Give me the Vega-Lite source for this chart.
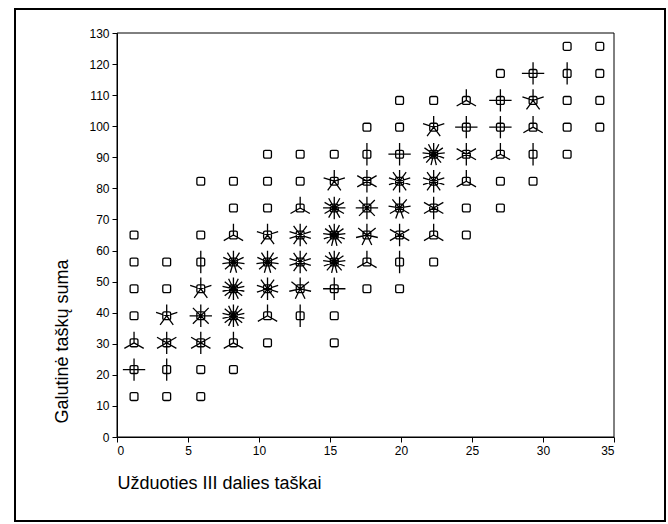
{
  "$schema": "https://vega.github.io/schema/vega-lite/v6.json",
  "width": 650,
  "height": 512,
  "autosize": {"type": "none"},
  "padding": {"left": 15, "top": 9, "right": 3, "bottom": 3},
  "background": "white",
  "config": {
    "view": {"stroke": "black", "strokeWidth": 2},
    "font": "Liberation Sans",
    "axis": {
      "grid": false,
      "domainColor": "black",
      "domainWidth": 1,
      "tickColor": "black",
      "tickSize": 5,
      "labelColor": "black",
      "labelFont": "Liberation Sans",
      "labelFontSize": 12,
      "labelOverlap": false,
      "titleColor": "black",
      "titleFont": "Liberation Sans",
      "titleFontSize": 18,
      "titleFontWeight": "normal"
    }
  },
  "layer": [
    {
      "data": {"values": [{"kraštas": "rėmelis"}]},
      "mark": {"type": "rect", "fill": null, "stroke": "black", "strokeWidth": 1},
      "encoding": {
        "x": {
          "datum": 0,
          "type": "quantitative",
          "scale": {"domain": [0, 35], "range": [102, 599], "nice": false, "zero": false},
          "axis": {
            "orient": "bottom",
            "offset": -84,
            "values": [0, 5, 10, 15, 20, 25, 30, 35],
            "labelPadding": 3,
            "title": "Užduoties III dalies taškai",
            "titleX": 102,
            "titleY": 46,
            "titleAlign": "left",
            "titleBaseline": "middle"
          }
        },
        "x2": {"datum": 35},
        "y": {
          "datum": 0,
          "type": "quantitative",
          "scale": {"domain": [0, 130], "range": [428, 24], "nice": false, "zero": false},
          "axis": {
            "orient": "left",
            "offset": -102,
            "values": [0, 10, 20, 30, 40, 50, 60, 70, 80, 90, 100, 110, 120, 130],
            "labelPadding": 3,
            "title": "Galutinė taškų suma",
            "titleX": -55,
            "titleY": 332,
            "titleAngle": 270,
            "titleAlign": "center",
            "titleBaseline": "middle"
          }
        },
        "y2": {"datum": 130}
      }
    },
    {
      "data": {
        "values": [
          {"taskai": 1.2, "suma": 13.0, "n": 1}, {"taskai": 3.5, "suma": 13.0, "n": 1}, {"taskai": 5.9, "suma": 13.0, "n": 1},
          {"taskai": 1.2, "suma": 21.7, "n": 4}, {"taskai": 3.5, "suma": 21.7, "n": 2}, {"taskai": 5.9, "suma": 21.7, "n": 1}, {"taskai": 8.2, "suma": 21.7, "n": 1},
          {"taskai": 1.2, "suma": 30.3, "n": 3}, {"taskai": 3.5, "suma": 30.3, "n": 6}, {"taskai": 5.9, "suma": 30.3, "n": 6}, {"taskai": 8.2, "suma": 30.3, "n": 3}, {"taskai": 10.6, "suma": 30.3, "n": 1}, {"taskai": 15.3, "suma": 30.3, "n": 1},
          {"taskai": 1.2, "suma": 39.0, "n": 1}, {"taskai": 3.5, "suma": 39.0, "n": 5}, {"taskai": 5.9, "suma": 39.0, "n": 8}, {"taskai": 8.2, "suma": 39.0, "n": 14}, {"taskai": 10.6, "suma": 39.0, "n": 3}, {"taskai": 12.9, "suma": 39.0, "n": 2}, {"taskai": 15.3, "suma": 39.0, "n": 1},
          {"taskai": 1.2, "suma": 47.7, "n": 1}, {"taskai": 3.5, "suma": 47.7, "n": 1}, {"taskai": 5.9, "suma": 47.7, "n": 5}, {"taskai": 8.2, "suma": 47.7, "n": 14}, {"taskai": 10.6, "suma": 47.7, "n": 10}, {"taskai": 12.9, "suma": 47.7, "n": 7}, {"taskai": 15.3, "suma": 47.7, "n": 4}, {"taskai": 17.6, "suma": 47.7, "n": 1}, {"taskai": 19.9, "suma": 47.7, "n": 1},
          {"taskai": 1.2, "suma": 56.3, "n": 1}, {"taskai": 3.5, "suma": 56.3, "n": 1}, {"taskai": 5.9, "suma": 56.3, "n": 2}, {"taskai": 8.2, "suma": 56.3, "n": 11}, {"taskai": 10.6, "suma": 56.3, "n": 11}, {"taskai": 12.9, "suma": 56.3, "n": 10}, {"taskai": 15.3, "suma": 56.3, "n": 13}, {"taskai": 17.6, "suma": 56.3, "n": 3}, {"taskai": 19.9, "suma": 56.3, "n": 2}, {"taskai": 22.3, "suma": 56.3, "n": 1},
          {"taskai": 1.2, "suma": 65.0, "n": 1}, {"taskai": 5.9, "suma": 65.0, "n": 1}, {"taskai": 8.2, "suma": 65.0, "n": 3}, {"taskai": 10.6, "suma": 65.0, "n": 5}, {"taskai": 12.9, "suma": 65.0, "n": 10}, {"taskai": 15.3, "suma": 65.0, "n": 13}, {"taskai": 17.6, "suma": 65.0, "n": 7}, {"taskai": 19.9, "suma": 65.0, "n": 6}, {"taskai": 22.3, "suma": 65.0, "n": 3}, {"taskai": 24.6, "suma": 65.0, "n": 1},
          {"taskai": 8.2, "suma": 73.7, "n": 1}, {"taskai": 10.6, "suma": 73.7, "n": 1}, {"taskai": 12.9, "suma": 73.7, "n": 3}, {"taskai": 15.3, "suma": 73.7, "n": 12}, {"taskai": 17.6, "suma": 73.7, "n": 8}, {"taskai": 19.9, "suma": 73.7, "n": 9}, {"taskai": 22.3, "suma": 73.7, "n": 6}, {"taskai": 24.6, "suma": 73.7, "n": 1}, {"taskai": 27.0, "suma": 73.7, "n": 1},
          {"taskai": 5.9, "suma": 82.3, "n": 1}, {"taskai": 8.2, "suma": 82.3, "n": 1}, {"taskai": 10.6, "suma": 82.3, "n": 1}, {"taskai": 12.9, "suma": 82.3, "n": 1}, {"taskai": 15.3, "suma": 82.3, "n": 5}, {"taskai": 17.6, "suma": 82.3, "n": 6}, {"taskai": 19.9, "suma": 82.3, "n": 10}, {"taskai": 22.3, "suma": 82.3, "n": 10}, {"taskai": 24.6, "suma": 82.3, "n": 3}, {"taskai": 27.0, "suma": 82.3, "n": 1}, {"taskai": 29.3, "suma": 82.3, "n": 1},
          {"taskai": 10.6, "suma": 91.0, "n": 1}, {"taskai": 12.9, "suma": 91.0, "n": 1}, {"taskai": 15.3, "suma": 91.0, "n": 1}, {"taskai": 17.6, "suma": 91.0, "n": 2}, {"taskai": 19.9, "suma": 91.0, "n": 4}, {"taskai": 22.3, "suma": 91.0, "n": 13}, {"taskai": 24.6, "suma": 91.0, "n": 6}, {"taskai": 27.0, "suma": 91.0, "n": 3}, {"taskai": 29.3, "suma": 91.0, "n": 2}, {"taskai": 31.7, "suma": 91.0, "n": 1},
          {"taskai": 17.6, "suma": 99.7, "n": 1}, {"taskai": 19.9, "suma": 99.7, "n": 1}, {"taskai": 22.3, "suma": 99.7, "n": 5}, {"taskai": 24.6, "suma": 99.7, "n": 4}, {"taskai": 27.0, "suma": 99.7, "n": 4}, {"taskai": 29.3, "suma": 99.7, "n": 3}, {"taskai": 31.7, "suma": 99.7, "n": 1}, {"taskai": 34.0, "suma": 99.7, "n": 1},
          {"taskai": 19.9, "suma": 108.3, "n": 1}, {"taskai": 22.3, "suma": 108.3, "n": 1}, {"taskai": 24.6, "suma": 108.3, "n": 3}, {"taskai": 27.0, "suma": 108.3, "n": 4}, {"taskai": 29.3, "suma": 108.3, "n": 5}, {"taskai": 31.7, "suma": 108.3, "n": 1}, {"taskai": 34.0, "suma": 108.3, "n": 1},
          {"taskai": 27.0, "suma": 117.0, "n": 1}, {"taskai": 29.3, "suma": 117.0, "n": 4}, {"taskai": 31.7, "suma": 117.0, "n": 2}, {"taskai": 34.0, "suma": 117.0, "n": 1},
          {"taskai": 31.7, "suma": 125.7, "n": 1}, {"taskai": 34.0, "suma": 125.7, "n": 1}
        ]
      },
      "mark": {"type": "point", "filled": false, "stroke": "black", "strokeWidth": 1.3, "size": 500, "opacity": 1},
      "encoding": {
        "x": {
          "field": "taskai",
          "type": "quantitative",
          "scale": {"domain": [0, 35], "range": [102, 599], "nice": false, "zero": false},
          "axis": {
            "orient": "bottom",
            "offset": -84,
            "values": [0, 5, 10, 15, 20, 25, 30, 35],
            "labelPadding": 3,
            "title": "Užduoties III dalies taškai",
            "titleX": 102,
            "titleY": 46,
            "titleAlign": "left",
            "titleBaseline": "middle"
          }
        },
        "y": {
          "field": "suma",
          "type": "quantitative",
          "scale": {"domain": [0, 130], "range": [428, 24], "nice": false, "zero": false},
          "axis": {
            "orient": "left",
            "offset": -102,
            "values": [0, 10, 20, 30, 40, 50, 60, 70, 80, 90, 100, 110, 120, 130],
            "labelPadding": 3,
            "title": "Galutinė taškų suma",
            "titleX": -55,
            "titleY": 332,
            "titleAngle": 270,
            "titleAlign": "center",
            "titleBaseline": "middle"
          }
        },
        "shape": {
          "field": "n",
          "type": "ordinal",
          "legend": null,
          "scale": {
            "domain": [1, 2, 3, 4, 5, 6, 7, 8, 9, 10, 11, 12, 13, 14],
            "range": [
              "M-0.21,-0.35H0.21Q0.35,-0.35 0.35,-0.21V0.21Q0.35,0.35 0.21,0.35H-0.21Q-0.35,0.35 -0.35,0.21V-0.21Q-0.35,-0.35 -0.21,-0.35Z",
              "M-0.21,-0.35H0.21Q0.35,-0.35 0.35,-0.21V0.21Q0.35,0.35 0.21,0.35H-0.21Q-0.35,0.35 -0.35,0.21V-0.21Q-0.35,-0.35 -0.21,-0.35ZM0,-1L0,1",
              "M-0.21,-0.35H0.21Q0.35,-0.35 0.35,-0.21V0.21Q0.35,0.35 0.21,0.35H-0.21Q-0.35,0.35 -0.35,0.21V-0.21Q-0.35,-0.35 -0.21,-0.35ZM0,0L0,-1M0,0L0.866,0.5M0,0L-0.866,0.5",
              "M-0.21,-0.35H0.21Q0.35,-0.35 0.35,-0.21V0.21Q0.35,0.35 0.21,0.35H-0.21Q-0.35,0.35 -0.35,0.21V-0.21Q-0.35,-0.35 -0.21,-0.35ZM0,-1L0,1M-1,0L1,0",
              "M-0.21,-0.35H0.21Q0.35,-0.35 0.35,-0.21V0.21Q0.35,0.35 0.21,0.35H-0.21Q-0.35,0.35 -0.35,0.21V-0.21Q-0.35,-0.35 -0.21,-0.35ZM0,0L0,-1M0,0L0.951,-0.309M0,0L0.588,0.809M0,0L-0.588,0.809M0,0L-0.951,-0.309",
              "M-0.21,-0.35H0.21Q0.35,-0.35 0.35,-0.21V0.21Q0.35,0.35 0.21,0.35H-0.21Q-0.35,0.35 -0.35,0.21V-0.21Q-0.35,-0.35 -0.21,-0.35ZM0,-1L0,1M0.866,-0.5L-0.866,0.5M0.866,0.5L-0.866,-0.5",
              "M-0.21,-0.35H0.21Q0.35,-0.35 0.35,-0.21V0.21Q0.35,0.35 0.21,0.35H-0.21Q-0.35,0.35 -0.35,0.21V-0.21Q-0.35,-0.35 -0.21,-0.35ZM0,0L0,-1M0,0L0.782,-0.623M0,0L0.975,0.223M0,0L0.434,0.901M0,0L-0.434,0.901M0,0L-0.975,0.223M0,0L-0.782,-0.623",
              "M-0.21,-0.35H0.21Q0.35,-0.35 0.35,-0.21V0.21Q0.35,0.35 0.21,0.35H-0.21Q-0.35,0.35 -0.35,0.21V-0.21Q-0.35,-0.35 -0.21,-0.35ZM0,-1L0,1M-1,0L1,0M-0.707,-0.707L0.707,0.707M0.707,-0.707L-0.707,0.707",
              "M-0.21,-0.35H0.21Q0.35,-0.35 0.35,-0.21V0.21Q0.35,0.35 0.21,0.35H-0.21Q-0.35,0.35 -0.35,0.21V-0.21Q-0.35,-0.35 -0.21,-0.35ZM0,0L0,-1M0,0L0.643,-0.766M0,0L0.985,-0.174M0,0L0.866,0.5M0,0L0.342,0.94M0,0L-0.342,0.94M0,0L-0.866,0.5M0,0L-0.985,-0.174M0,0L-0.643,-0.766",
              "M-0.21,-0.35H0.21Q0.35,-0.35 0.35,-0.21V0.21Q0.35,0.35 0.21,0.35H-0.21Q-0.35,0.35 -0.35,0.21V-0.21Q-0.35,-0.35 -0.21,-0.35ZM0,-1L0,1M0.588,-0.809L-0.588,0.809M0.951,-0.309L-0.951,0.309M0.951,0.309L-0.951,-0.309M0.588,0.809L-0.588,-0.809",
              "M-0.21,-0.35H0.21Q0.35,-0.35 0.35,-0.21V0.21Q0.35,0.35 0.21,0.35H-0.21Q-0.35,0.35 -0.35,0.21V-0.21Q-0.35,-0.35 -0.21,-0.35ZM0,0L0,-1M0,0L0.541,-0.841M0,0L0.91,-0.415M0,0L0.99,0.142M0,0L0.756,0.655M0,0L0.282,0.959M0,0L-0.282,0.959M0,0L-0.756,0.655M0,0L-0.99,0.142M0,0L-0.91,-0.415M0,0L-0.541,-0.841",
              "M-0.21,-0.35H0.21Q0.35,-0.35 0.35,-0.21V0.21Q0.35,0.35 0.21,0.35H-0.21Q-0.35,0.35 -0.35,0.21V-0.21Q-0.35,-0.35 -0.21,-0.35ZM0,-1L0,1M0.5,-0.866L-0.5,0.866M0.866,-0.5L-0.866,0.5M1,0L-1,0M0.866,0.5L-0.866,-0.5M0.5,0.866L-0.5,-0.866",
              "M-0.21,-0.35H0.21Q0.35,-0.35 0.35,-0.21V0.21Q0.35,0.35 0.21,0.35H-0.21Q-0.35,0.35 -0.35,0.21V-0.21Q-0.35,-0.35 -0.21,-0.35ZM0,0L0,-1M0,0L0.465,-0.885M0,0L0.823,-0.568M0,0L0.993,-0.121M0,0L0.935,0.355M0,0L0.663,0.749M0,0L0.239,0.971M0,0L-0.239,0.971M0,0L-0.663,0.749M0,0L-0.935,0.355M0,0L-0.993,-0.121M0,0L-0.823,-0.568M0,0L-0.465,-0.885",
              "M-0.21,-0.35H0.21Q0.35,-0.35 0.35,-0.21V0.21Q0.35,0.35 0.21,0.35H-0.21Q-0.35,0.35 -0.35,0.21V-0.21Q-0.35,-0.35 -0.21,-0.35ZM0,-1L0,1M0.434,-0.901L-0.434,0.901M0.782,-0.623L-0.782,0.623M0.975,-0.223L-0.975,0.223M0.975,0.223L-0.975,-0.223M0.782,0.623L-0.782,-0.623M0.434,0.901L-0.434,-0.901"
            ]
          }
        }
      }
    }
  ]
}
